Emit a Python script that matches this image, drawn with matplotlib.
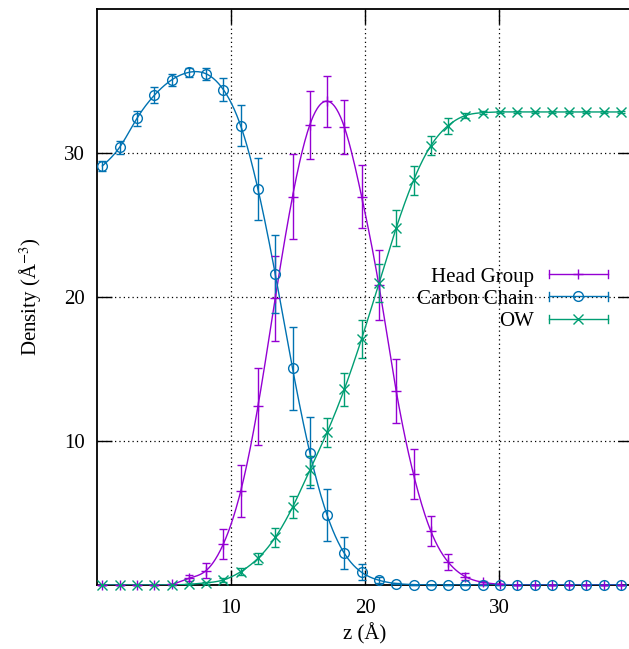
import numpy as np
import matplotlib
matplotlib.use("Agg")
import matplotlib.pyplot as plt
from matplotlib.lines import Line2D
from matplotlib.legend_handler import HandlerBase

plt.rcParams['font.family'] = ['Liberation Serif', 'DejaVu Serif']
plt.rcParams['mathtext.fontset'] = 'stix'
plt.rcParams['font.size'] = 15

# ---- data ----
z = [0.40, 1.69, 2.98, 4.27, 5.56, 6.85, 8.14, 9.43, 10.72, 12.01, 13.30,
     14.59, 15.88, 17.17, 18.46, 19.75, 21.04, 22.33, 23.62, 24.91, 26.20,
     27.49, 28.78, 30.07, 31.36, 32.65, 33.94, 35.23, 36.52, 37.81, 39.10]

head = [0.0, 0.0, 0.0, 0.0, 0.05, 0.46, 1.0, 2.85, 6.5, 12.4, 19.9,
        26.97, 31.95, 33.6, 31.8, 26.97, 20.8, 13.47, 7.69, 3.75, 1.6,
        0.58, 0.19, 0.05, 0.0, 0.0, 0.0, 0.0, 0.0, 0.0, 0.0]
head_err = [0.0, 0.0, 0.0, 0.0, 0.05, 0.2, 0.53, 1.06, 1.8, 2.7, 2.95,
            2.94, 2.38, 1.78, 1.85, 2.2, 2.43, 2.25, 1.74, 1.06, 0.57,
            0.23, 0.1, 0.0, 0.0, 0.0, 0.0, 0.0, 0.0, 0.0, 0.0]

carbon = [29.1, 30.4, 32.4, 34.0, 35.07, 35.6, 35.5, 34.4, 31.9, 27.5, 21.6,
          15.05, 9.2, 4.86, 2.2, 0.88, 0.33, 0.1, 0.03, 0.0, 0.0,
          0.0, 0.0, 0.0, 0.0, 0.0, 0.0, 0.0, 0.0, 0.0, 0.0]
carbon_err = [0.35, 0.45, 0.55, 0.55, 0.4, 0.3, 0.4, 0.8, 1.43, 2.13, 2.7,
              2.88, 2.46, 1.8, 1.1, 0.55, 0.2, 0.05, 0.0, 0.0, 0.0,
              0.0, 0.0, 0.0, 0.0, 0.0, 0.0, 0.0, 0.0, 0.0, 0.0]

ow = [0.0, 0.0, 0.0, 0.0, 0.0, 0.05, 0.15, 0.35, 0.92, 1.85, 3.3,
      5.4, 7.97, 10.6, 13.6, 17.1, 20.95, 24.8, 28.1, 30.5, 31.9,
      32.6, 32.8, 32.85, 32.85, 32.85, 32.85, 32.85, 32.85, 32.85, 32.85]
ow_err = [0.0, 0.0, 0.0, 0.0, 0.0, 0.0, 0.05, 0.12, 0.25, 0.4, 0.64,
          0.75, 1.0, 1.0, 1.15, 1.33, 1.33, 1.27, 1.0, 0.67, 0.55,
          0.2, 0.1, 0.05, 0.05, 0.05, 0.05, 0.05, 0.05, 0.05, 0.05]

labels = ["Head Group", "Carbon Chain", "OW"]
colors = ["#9400d3", "#0072b2", "#009e73"]
markers = ["+", "o", "x"]
msizes = [7, 7, 7.5]

xticks = [10, 20, 30]
yticks = [10, 20, 30]


def cspline(x, y, n=800):
    x = np.asarray(x, float)
    y = np.asarray(y, float)
    N = len(x)
    h = np.diff(x)
    A = np.zeros((N, N))
    r = np.zeros(N)
    A[0, 0] = A[-1, -1] = 1
    for i in range(1, N - 1):
        A[i, i - 1] = h[i - 1]
        A[i, i] = 2 * (h[i - 1] + h[i])
        A[i, i + 1] = h[i]
        r[i] = 3 * ((y[i + 1] - y[i]) / h[i] - (y[i] - y[i - 1]) / h[i - 1])
    c = np.linalg.solve(A, r)
    b = (y[1:] - y[:-1]) / h - h * (2 * c[:-1] + c[1:]) / 3
    d = (c[1:] - c[:-1]) / (3 * h)
    xs = np.linspace(x[0], x[-1], n)
    idx = np.clip(np.searchsorted(x, xs) - 1, 0, N - 2)
    dx = xs - x[idx]
    ys = y[idx] + b[idx] * dx + c[idx] * dx ** 2 + d[idx] * dx ** 3
    return xs, ys


class GnuErrHandler(HandlerBase):
    def create_artists(self, legend, orig_handle, xdescent, ydescent,
                       width, height, fontsize, trans):
        col = orig_handle.get_color()
        y = height / 2 - ydescent
        x0, x1 = -xdescent, width - xdescent
        cap = 2.9
        arts = [
            Line2D([x0, x1], [y, y], color=col, lw=1.0, transform=trans),
            Line2D([x0, x0], [y - cap, y + cap], color=col, lw=1.0, transform=trans),
            Line2D([x1, x1], [y - cap, y + cap], color=col, lw=1.0, transform=trans),
            Line2D([(x0 + x1) / 2], [y], color=col, marker=orig_handle.get_marker(),
                   markersize=orig_handle.get_markersize(), mfc='none',
                   mew=1.0, lw=0, transform=trans),
        ]
        return arts


fig = plt.figure(figsize=(6.29, 6.49), dpi=100)
W, H = 629, 649
ax = fig.add_axes([97 / W, 64 / H, (633 - 97) / W, (585 - 9) / H])

series = [(head, head_err), (carbon, carbon_err), (ow, ow_err)]
proxies = []
for (vals, errs), lab, col, mk, ms in zip(series, labels, colors, markers, msizes):
    xs, ys = cspline(z, vals)
    ax.plot(xs, ys, color=col, lw=1.0, zorder=3)
    ax.errorbar(z, vals, yerr=errs, fmt=mk, color=col, ecolor=col, mfc='none',
                ms=ms, mew=1.0, elinewidth=1.0, capsize=2.6, capthick=1.0,
                clip_on=False, zorder=4)
    proxies.append(Line2D([], [], color=col, marker=mk, markersize=ms, label=lab))

ax.set_xlim(0, 40)
ax.set_ylim(0, 40)
ax.set_xticks(xticks)
ax.set_yticks(yticks)
ax.tick_params(direction='in', length=11, width=1.0, top=True, right=True,
               labelsize=15, pad=9)
ax.tick_params(axis='x', pad=10)
ax.grid(True, color='black', linestyle=(0, (1, 2.5)), linewidth=0.9)
for s in ax.spines.values():
    s.set_linewidth(1.3)

ax.set_xlabel("z (Å)", fontsize=15, labelpad=4)
ax.set_ylabel("Density (Å$^{-3}$)", fontsize=15, labelpad=14)

leg = fig.legend(handles=proxies, labels=labels,
                 handler_map={Line2D: GnuErrHandler()},
                 loc='center right', bbox_to_anchor=(608 / W, 1 - 299 / H),
                 bbox_transform=fig.transFigure, frameon=False,
                 markerfirst=False, handlelength=2.85, handletextpad=0.7,
                 labelspacing=0.12, borderpad=0, borderaxespad=0, fontsize=15)

fig.savefig("out.png", dpi=100)
